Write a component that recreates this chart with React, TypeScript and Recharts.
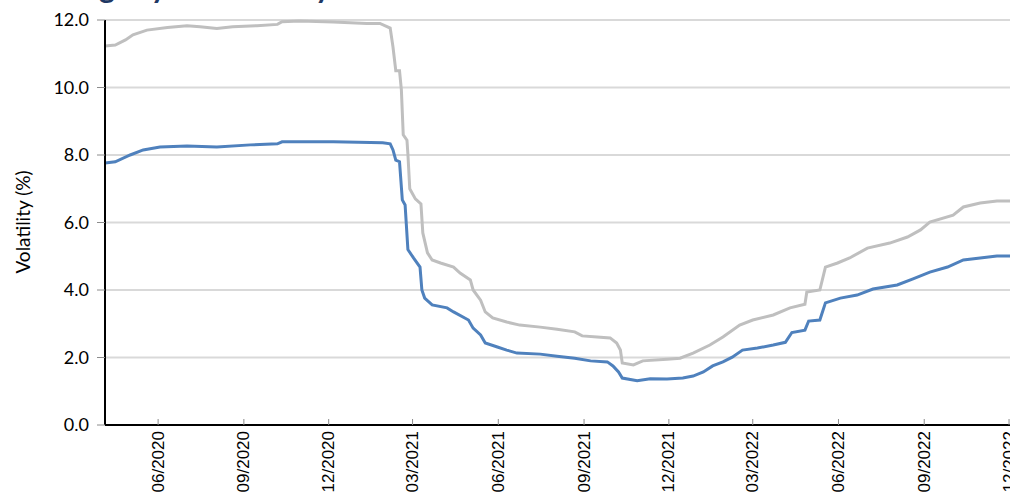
import React from 'react';
import { LineChart, Line, XAxis, YAxis, CartesianGrid } from 'recharts';

const titleText = 'Rolling 1-year volatility';
const yAxisTitle = 'Volatility (%)';

const grayDates = [
  '2020-04-05', '2020-04-16', '2020-04-27', '2020-05-05', '2020-05-20', '2020-06-11', '2020-07-02', '2020-07-16',
  '2020-08-03', '2020-08-20', '2020-09-15', '2020-10-07', '2020-10-12', '2020-10-31', '2020-12-06', '2021-01-11',
  '2021-01-25', '2021-02-05', '2021-02-08', '2021-02-11', '2021-02-15', '2021-02-17', '2021-02-19', '2021-02-23',
  '2021-02-24', '2021-02-26', '2021-03-04', '2021-03-10', '2021-03-12', '2021-03-17', '2021-03-22', '2021-03-31',
  '2021-04-14', '2021-04-21', '2021-05-02', '2021-05-05', '2021-05-13', '2021-05-18', '2021-05-26', '2021-06-10',
  '2021-06-24', '2021-07-16', '2021-08-03', '2021-08-22', '2021-08-30', '2021-09-15', '2021-09-29', '2021-10-06',
  '2021-10-10', '2021-10-12', '2021-10-24', '2021-11-03', '2021-11-29', '2021-12-13', '2021-12-27', '2022-01-14',
  '2022-01-28', '2022-02-15', '2022-03-01', '2022-03-23', '2022-04-10', '2022-04-26', '2022-04-28', '2022-05-12',
  '2022-05-18', '2022-05-31', '2022-06-13', '2022-07-02', '2022-07-26', '2022-08-14', '2022-08-28', '2022-09-07',
  '2022-10-02', '2022-10-13', '2022-10-31', '2022-11-18', '2022-12-31',
];
const grayValues = [
  11.23, 11.26, 11.41, 11.56, 11.7, 11.78, 11.83, 11.8,
  11.75, 11.8, 11.83, 11.87, 11.95, 11.97, 11.94, 11.9,
  11.9, 11.76, 11.2, 10.5, 10.5, 9.93, 8.6, 8.44,
  8.03, 7.0, 6.7, 6.55, 5.69, 5.1, 4.89, 4.8,
  4.68, 4.5, 4.3, 4.0, 3.7, 3.35, 3.17, 3.05,
  2.96, 2.9, 2.84, 2.76, 2.64, 2.61, 2.58, 2.43,
  2.22, 1.84, 1.78, 1.9, 1.95, 1.98, 2.13, 2.37,
  2.61, 2.96, 3.11, 3.26, 3.47, 3.58, 3.94, 4.0,
  4.68, 4.8, 4.95, 5.24, 5.39, 5.57, 5.78, 6.01,
  6.22, 6.46, 6.58, 6.64, 6.64,
];

const blueDates = [
  '2020-04-05', '2020-04-16', '2020-05-02', '2020-05-16', '2020-06-03', '2020-07-02', '2020-08-03', '2020-09-08',
  '2020-10-07', '2020-10-12', '2020-12-06', '2021-01-28', '2021-02-05', '2021-02-08', '2021-02-11', '2021-02-15',
  '2021-02-18', '2021-02-21', '2021-02-24', '2021-03-02', '2021-03-09', '2021-03-11', '2021-03-14', '2021-03-22',
  '2021-04-07', '2021-04-14', '2021-04-30', '2021-05-05', '2021-05-13', '2021-05-18', '2021-05-31', '2021-06-10',
  '2021-06-21', '2021-07-16', '2021-08-03', '2021-08-22', '2021-09-08', '2021-09-26', '2021-10-02', '2021-10-08',
  '2021-10-12', '2021-10-28', '2021-11-11', '2021-11-29', '2021-12-16', '2021-12-27', '2022-01-07', '2022-01-17',
  '2022-01-28', '2022-02-07', '2022-02-18', '2022-03-06', '2022-03-23', '2022-04-05', '2022-04-12', '2022-04-26',
  '2022-04-30', '2022-05-12', '2022-05-18', '2022-06-03', '2022-06-21', '2022-07-08', '2022-08-03', '2022-08-20',
  '2022-09-07', '2022-09-26', '2022-10-13', '2022-10-31', '2022-11-18', '2022-12-31',
];
const blueValues = [
  7.76, 7.8, 8.0, 8.15, 8.24, 8.27, 8.24, 8.3,
  8.33, 8.39, 8.39, 8.36, 8.33, 8.15, 7.85, 7.8,
  6.67, 6.52, 5.2, 4.95, 4.68, 4.0, 3.76, 3.56,
  3.47, 3.35, 3.11, 2.87, 2.67, 2.43, 2.31, 2.22,
  2.13, 2.1, 2.04, 1.98, 1.9, 1.87, 1.75, 1.57,
  1.39, 1.31, 1.37, 1.36, 1.39, 1.45, 1.57, 1.75,
  1.87, 2.01, 2.22, 2.28, 2.37, 2.45, 2.74, 2.81,
  3.08, 3.11, 3.62, 3.76, 3.85, 4.03, 4.15, 4.33,
  4.53, 4.68, 4.89, 4.95, 5.01, 5.01,
];

const tickDates = [
  '2020-06-01', '2020-09-01', '2020-12-01', '2021-03-01', '2021-06-01', '2021-09-01',
  '2021-12-01', '2022-03-01', '2022-06-01', '2022-09-01', '2022-12-01',
];
const tickLabels = [
  '06/2020', '09/2020', '12/2020', '03/2021', '06/2021', '09/2021',
  '12/2021', '03/2022', '06/2022', '09/2022', '12/2022',
];
const yTicks = [0, 2, 4, 6, 8, 10, 12];
const domainStart = '2020-04-05';
const domainEnd = '2022-12-31';

const toDay = (s: string) => {
  const [y, m, d] = s.split('-').map(Number);
  return Date.UTC(y, m - 1, d) / 86400000;
};

const grayData = grayDates.map((d, i) => ({ t: toDay(d), v: grayValues[i] }));
const blueData = blueDates.map((d, i) => ({ t: toDay(d), v: blueValues[i] }));
const tickDays = tickDates.map(toDay);
const labelByDay: Record<number, string> = {};
tickDays.forEach((t, i) => { labelByDay[t] = tickLabels[i]; });

const XTick = (props: any) => {
  const { x, y, payload } = props;
  const ty = y + 6;
  return (
    <g>
      <line x1={x} x2={x} y1={y - 6} y2={y} stroke="#8c8c8c" strokeWidth={1} />
      <text
        x={x}
        y={ty}
        transform={`rotate(-90, ${x}, ${ty})`}
        textAnchor="end"
        dominantBaseline="central"
        fontFamily="'Liberation Sans', Arial, sans-serif"
        fontSize={17}
        fill="#000"
      >
        {labelByDay[payload.value]}
      </text>
    </g>
  );
};

export default function App() {
  return (
    <div style={{ position: 'absolute', left: 0, top: 0, width: 1010, height: 493, overflow: 'hidden', background: '#fff' }}>
      <svg width={1010} height={20} style={{ position: 'absolute', left: 0, top: 0 }}>
        <text x={24} y={-2} fontFamily="Lato, sans-serif" fontWeight={700} fontSize={30} fill="#1f3864">
          {titleText}
        </text>
      </svg>
      <div
        style={{
          position: 'absolute',
          left: 22,
          top: 222,
          transform: 'translate(-50%, -50%) rotate(-90deg)',
          whiteSpace: 'nowrap',
          fontFamily: 'Lato, sans-serif',
          fontSize: 19,
          color: '#000',
          lineHeight: 1,
        }}
      >
        {yAxisTitle}
      </div>
      <div style={{ position: 'absolute', left: 0, top: 0 }}>
        <LineChart width={1040} height={520} margin={{ top: 20, right: 3, bottom: 0, left: 40 }}>
          <CartesianGrid vertical={false} stroke="#d9d9d9" strokeWidth={2} />
          <XAxis
            type="number"
            dataKey="t"
            domain={[toDay(domainStart), toDay(domainEnd)]}
            allowDataOverflow
            ticks={tickDays}
            interval={0}
            tick={<XTick />}
            tickLine={false}
            tickSize={0}
            tickMargin={0}
            height={95}
            axisLine={{ stroke: '#000', strokeWidth: 2 }}
          />
          <YAxis
            type="number"
            domain={[0, 12]}
            ticks={yTicks}
            interval={0}
            width={65}
            tickFormatter={(v: number) => v.toFixed(1)}
            tick={{ fontFamily: 'Lato, sans-serif', fontSize: 18, fill: '#000' }}
            tickLine={{ stroke: '#8c8c8c' }}
            tickSize={8}
            tickMargin={8}
            axisLine={{ stroke: '#000', strokeWidth: 2 }}
          />
          <Line data={grayData} dataKey="v" type="linear" stroke="#bfbfbf" strokeWidth={3} dot={false} isAnimationActive={false} />
          <Line data={blueData} dataKey="v" type="linear" stroke="#4f81bd" strokeWidth={3} dot={false} isAnimationActive={false} />
        </LineChart>
      </div>
    </div>
  );
}
